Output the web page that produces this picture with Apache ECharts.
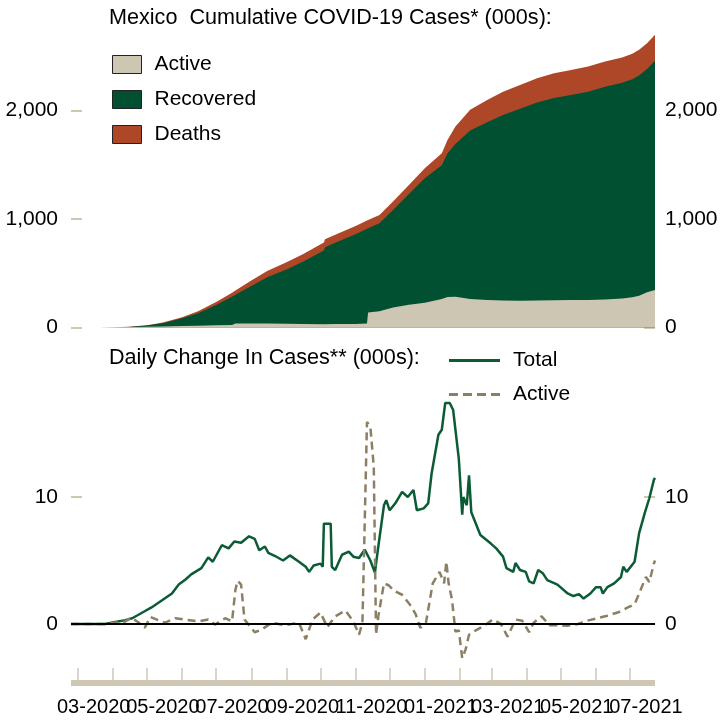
<!DOCTYPE html>
<html>
<head>
<meta charset="utf-8">
<title>Mexico COVID-19</title>
<script src="https://cdn.jsdelivr.net/npm/echarts@6.0.0/dist/echarts.min.js"></script>
<style>
  html, body { margin: 0; padding: 0; background: #fff; }
  #main { width: 722px; height: 721px; }
</style>
</head>
<body>
<div id="main"></div>
<script type="text/javascript">
// cumulative cases (000s), read as the top edge of each band
var cumDates = ['2020-02-24','2020-03-20','2020-04-01','2020-04-15','2020-05-01','2020-05-15','2020-06-01','2020-06-15',
    '2020-07-01','2020-07-15','2020-07-18','2020-08-01','2020-08-15','2020-09-01','2020-09-15','2020-10-04','2020-10-05',
    '2020-10-15','2020-11-01','2020-11-11','2020-11-12','2020-11-22','2020-12-04','2020-12-18','2021-01-01','2021-01-16',
    '2021-01-21','2021-01-28','2021-02-10','2021-02-25','2021-03-11','2021-03-26','2021-04-10','2021-04-25','2021-05-10',
    '2021-05-25','2021-06-09','2021-06-24','2021-07-03','2021-07-09','2021-07-16','2021-07-23'];
// top of the Active band
var activeTop = [0,0.2,1.2,3,6,9,13,16,20,22,38,38,36,34,32,31,33,32,33,38,138,150,185,210,228,262,280,284,262,253,249,247,
    249,252,253,253,258,268,278,293,325,346];
// top of the Recovered band (active + recovered)
var recoveredTop = [0,0.2,1.4,5.5,18,40,85,132,207,283,301,382,462,535,603,710,740,786,860,909,914,960,1082,1231,1375,1495,
    1603,1691,1815,1892,1958,2015,2073,2115,2143,2173,2218,2254,2287,2322,2382,2458];
// top of the Deaths band (all cases)
var deathsTop = [0,0.2,1.5,6,20,45,95,150,235,320,340,432,520,600,672,782,813,860,935,985,990,1037,1160,1313,1467,1605,
    1728,1851,2005,2097,2173,2235,2297,2343,2373,2404,2450,2488,2522,2558,2619,2696];

// daily change (000s)
var totalDates = ['2020-02-24','2020-03-25','2020-04-03','2020-04-12','2020-04-18','2020-04-27','2020-05-05','2020-05-14',
    '2020-05-23','2020-05-29','2020-06-04','2020-06-09','2020-06-18','2020-06-24','2020-06-28','2020-07-06','2020-07-12',
    '2020-07-17','2020-07-23','2020-07-30','2020-08-04','2020-08-08','2020-08-13','2020-08-16','2020-08-22','2020-08-29',
    '2020-09-04','2020-09-12','2020-09-18','2020-09-21','2020-09-25','2020-10-01','2020-10-03','2020-10-04','2020-10-10',
    '2020-10-11','2020-10-14','2020-10-20','2020-10-26','2020-10-30','2020-11-04','2020-11-09','2020-11-14','2020-11-18',
    '2020-11-21','2020-11-26','2020-11-28','2020-12-01','2020-12-06','2020-12-12','2020-12-17','2020-12-22','2020-12-25',
    '2020-12-31','2021-01-04','2021-01-07','2021-01-13','2021-01-16','2021-01-19','2021-01-23','2021-01-26','2021-01-28',
    '2021-01-31','2021-02-03','2021-02-04','2021-02-07','2021-02-09','2021-02-11','2021-02-19','2021-02-28','2021-03-05',
    '2021-03-11','2021-03-14','2021-03-20','2021-03-22','2021-03-26','2021-03-31','2021-04-03','2021-04-07','2021-04-11',
    '2021-04-15','2021-04-19','2021-04-28','2021-05-07','2021-05-12','2021-05-17','2021-05-21','2021-05-27','2021-06-01',
    '2021-06-05','2021-06-07','2021-06-11','2021-06-17','2021-06-23','2021-06-25','2021-06-28','2021-07-05','2021-07-09',
    '2021-07-14','2021-07-18','2021-07-22','2021-07-23'];
var totalChg = [0,0,0.15,0.3,0.45,0.9,1.3,1.85,2.4,3.1,3.5,3.9,4.4,5.25,4.9,6.2,5.95,6.5,6.4,6.9,6.7,5.8,6.1,5.6,5.35,5.0,
    5.4,4.9,4.5,4.1,4.6,4.75,4.5,7.9,7.9,4.5,4.25,5.45,5.7,5.3,5.2,5.85,5.0,4.05,6.1,9.35,9.75,8.95,9.5,10.4,10.0,10.55,
    8.95,9.1,9.5,11.85,14.9,15.3,17.4,17.4,16.85,15.3,13.0,8.6,10.0,9.35,11.7,8.8,7.0,6.35,5.95,5.3,4.4,4.1,4.8,4.25,4.1,
    3.35,3.2,4.25,4.0,3.45,3.1,2.4,2.2,2.35,2.0,2.4,2.9,2.9,2.4,2.9,3.2,3.7,4.5,4.1,4.9,7.15,8.75,9.9,11.35,11.5];

var activeDates = ['2020-02-24','2020-03-25','2020-04-12','2020-04-17','2020-04-23','2020-04-29','2020-05-04','2020-05-11',
    '2020-05-17','2020-05-26','2020-06-03','2020-06-15','2020-06-24','2020-06-30','2020-07-09','2020-07-15','2020-07-18',
    '2020-07-20','2020-07-23','2020-07-26','2020-07-31','2020-08-04','2020-08-10','2020-08-19','2020-08-31','2020-09-12',
    '2020-09-18','2020-09-24','2020-10-01','2020-10-07','2020-10-14','2020-10-23','2020-10-30','2020-11-04','2020-11-07',
    '2020-11-09','2020-11-11','2020-11-14','2020-11-17','2020-11-19','2020-11-21','2020-11-26','2020-11-30','2020-12-05',
    '2020-12-12','2020-12-20','2020-12-24','2020-12-28','2021-01-02','2021-01-08','2021-01-14','2021-01-18','2021-01-20',
    '2021-01-22','2021-01-25','2021-01-28','2021-01-31','2021-02-03','2021-02-06','2021-02-09','2021-02-15','2021-02-22',
    '2021-03-02','2021-03-09','2021-03-15','2021-03-22','2021-03-28','2021-04-03','2021-04-07','2021-04-14','2021-04-21',
    '2021-04-28','2021-05-07','2021-05-16','2021-05-24','2021-06-02','2021-06-11','2021-06-20','2021-06-29','2021-07-05',
    '2021-07-09','2021-07-15','2021-07-18','2021-07-22','2021-07-23'];
var activeChg = [0,0,0.2,0.5,0.15,-0.3,0.55,0.3,0.1,0.45,0.35,0.2,0.35,-0.05,0.45,0.2,2.7,3.4,3.1,0.35,-0.2,-0.65,-0.45,
    0.1,-0.1,0.1,-1.2,0.35,0.9,-0.25,0.6,1.05,0.2,-0.85,0.1,7.9,15.9,15.5,12.4,-0.85,0.6,3.2,3.05,2.6,2.3,1.4,0.75,-0.3,
    0.1,3.2,4.1,3.2,4.9,3.2,1.9,-0.6,-0.5,-2.7,-2.0,-0.85,-0.5,-0.15,0.35,0,-1.0,0.35,0.25,-0.65,0.1,0.6,-0.1,-0.1,-0.15,
    0,0.25,0.45,0.65,0.9,1.3,1.55,2.4,3.7,3.3,4.75,5.0];

// axis ticks: month starts, labels mid-month every second month
var monthTicks = ['2020-03-01','2020-04-01','2020-05-01','2020-06-01','2020-07-01','2020-08-01','2020-09-01','2020-10-01',
    '2020-11-01','2020-12-01','2021-01-01','2021-02-01','2021-03-01','2021-04-01','2021-05-01','2021-06-01','2021-07-01'];
var monthLabels = ['2020-03-15','2020-05-15','2020-07-15','2020-09-15','2020-11-15','2021-01-15','2021-03-15','2021-05-15',
    '2021-07-15'];
var cumTicks = [0, 1000, 2000];
var dailyTicks = [0, 10];

// dates -> timestamps (x axes are plain value axes holding timestamps)
function toTime(s) {
    var p = s.split('-');
    return Date.UTC(+p[0], +p[1] - 1, +p[2]);
}
function pairs(dates, vals) {
    return dates.map(function (d, i) { return [toTime(d), vals[i]]; });
}

var FONT = 'Liberation Sans, Arial, sans-serif';
var BEIGE = '#cec7b4';
var xMin = toTime('2020-02-24');
var xMax = toTime('2021-07-23');

var myChart = echarts.init(document.getElementById('main'));

function yAxisFor(grid, pos, min, max, ticks) {
    return {
        type: 'value', gridIndex: grid, position: pos, min: min, max: max,
        splitLine: {show: false},
        axisLine: {show: false},
        axisTick: {show: true, inside: true, length: 11, customValues: ticks, lineStyle: {color: BEIGE, width: 2}},
        axisLabel: {
            customValues: ticks, margin: pos === 'left' ? 13 : 10, fontSize: 21, color: '#000', fontFamily: FONT,
            formatter: function (v) { return Number(v).toLocaleString('en-US'); }
        }
    };
}

// month labels overlap a little, so they are split over two stacked axes
// (otherwise echarts drops the neighbour of the first/last label)
function monthLabelAxis(labels, withLine) {
    return {
        type: 'value', gridIndex: 1, position: 'bottom', offset: 0, min: xMin, max: xMax,
        splitLine: {show: false},
        axisLine: {show: withLine, onZero: false, lineStyle: {color: BEIGE, width: 6, cap: 'butt'}},
        axisTick: {show: withLine, inside: true, length: 15, customValues: monthTicks.map(toTime),
            lineStyle: {color: BEIGE, width: 1.5}},
        axisLabel: {
            customValues: labels.map(toTime), margin: 14, fontSize: 20, color: '#000', fontFamily: FONT,
            showMinLabel: true, showMaxLabel: true, hideOverlap: false,
            formatter: function (v) {
                var d = new Date(Number(v));
                var m = d.getUTCMonth() + 1;
                return (m < 10 ? '0' + m : '' + m) + '-' + d.getUTCFullYear();
            }
        }
    };
}

function area(name, vals, color) {
    return {
        name: name, type: 'line', xAxisIndex: 0, yAxisIndex: 0, symbol: 'none',
        data: pairs(cumDates, vals), color: color,
        lineStyle: {width: 0}, areaStyle: {color: color, opacity: 1}
    };
}

var option = {
    animation: false,
    textStyle: {fontFamily: FONT},
    title: [
        {text: 'Mexico  Cumulative COVID-19 Cases* (000s):', left: 109, top: 7, padding: 0,
            textStyle: {fontSize: 21.6, fontWeight: 'normal', color: '#000', fontFamily: FONT}},
        {text: 'Daily Change In Cases** (000s):', left: 109, top: 347, padding: 0,
            textStyle: {fontSize: 21.6, fontWeight: 'normal', color: '#000', fontFamily: FONT}}
    ],
    legend: [
        {
            data: ['Active', 'Recovered', 'Deaths'], orient: 'vertical', left: 112, top: 54, padding: 0,
            itemWidth: 29, itemHeight: 18, itemGap: 14, icon: 'rect',
            itemStyle: {borderColor: '#222', borderWidth: 1},
            textStyle: {fontSize: 21, lineHeight: 21, color: '#000', fontFamily: FONT, padding: [0, 0, 0, 8]}
        },
        {
            data: [
                {name: 'Total', icon: 'path://M0,0H51V3H0Z'},
                {name: 'Active daily', icon: 'path://M0,0H9V3H0Z M14,0H23V3H14Z M28,0H37V3H28Z M42,0H51V3H42Z'}
            ],
            orient: 'vertical', left: 449, top: 350, padding: 0,
            itemWidth: 51, itemHeight: 3, itemGap: 13,
            formatter: function (name) { return name.split(' ')[0]; },
            textStyle: {fontSize: 21, lineHeight: 21, color: '#000', fontFamily: FONT, padding: [0, 0, 0, 8]}
        }
    ],
    grid: [
        {left: 71, right: 67, top: 29, height: 298.5},
        {left: 71, right: 67, top: 370, height: 313}
    ],
    xAxis: [
        {type: 'value', gridIndex: 0, min: xMin, max: xMax, show: false},
        monthLabelAxis(monthLabels.filter(function (d, i) { return i % 2 === 0; }), true),
        monthLabelAxis(monthLabels.filter(function (d, i) { return i % 2 === 1; }), false)
    ],
    yAxis: [
        yAxisFor(0, 'left', 0, 2750, cumTicks),
        yAxisFor(0, 'right', 0, 2750, cumTicks),
        yAxisFor(1, 'left', -4.65, 20, dailyTicks),
        yAxisFor(1, 'right', -4.65, 20, dailyTicks)
    ],
    series: [
        // painted back to front: each band covers the one below it
        area('Deaths', deathsTop, '#ae4727'),
        area('Recovered', recoveredTop, '#005031'),
        area('Active', activeTop, '#cdc6b3'),
        {name: 'Total', type: 'line', xAxisIndex: 1, yAxisIndex: 2, symbol: 'none',
            data: pairs(totalDates, totalChg), color: '#0b5b35',
            lineStyle: {color: '#0b5b35', width: 2.5}},
        {name: 'Active daily', type: 'line', xAxisIndex: 1, yAxisIndex: 2, symbol: 'none',
            data: pairs(activeDates, activeChg), color: '#8c7f64',
            lineStyle: {color: '#8c7f64', width: 2.5, type: [8, 5]},
            markLine: {
                silent: true, symbol: ['none', 'none'], label: {show: false},
                lineStyle: {color: '#000', width: 2, type: 'solid'},
                data: [{yAxis: 0}]
            }}
    ]
};
myChart.setOption(option);
</script>
</body>
</html>
